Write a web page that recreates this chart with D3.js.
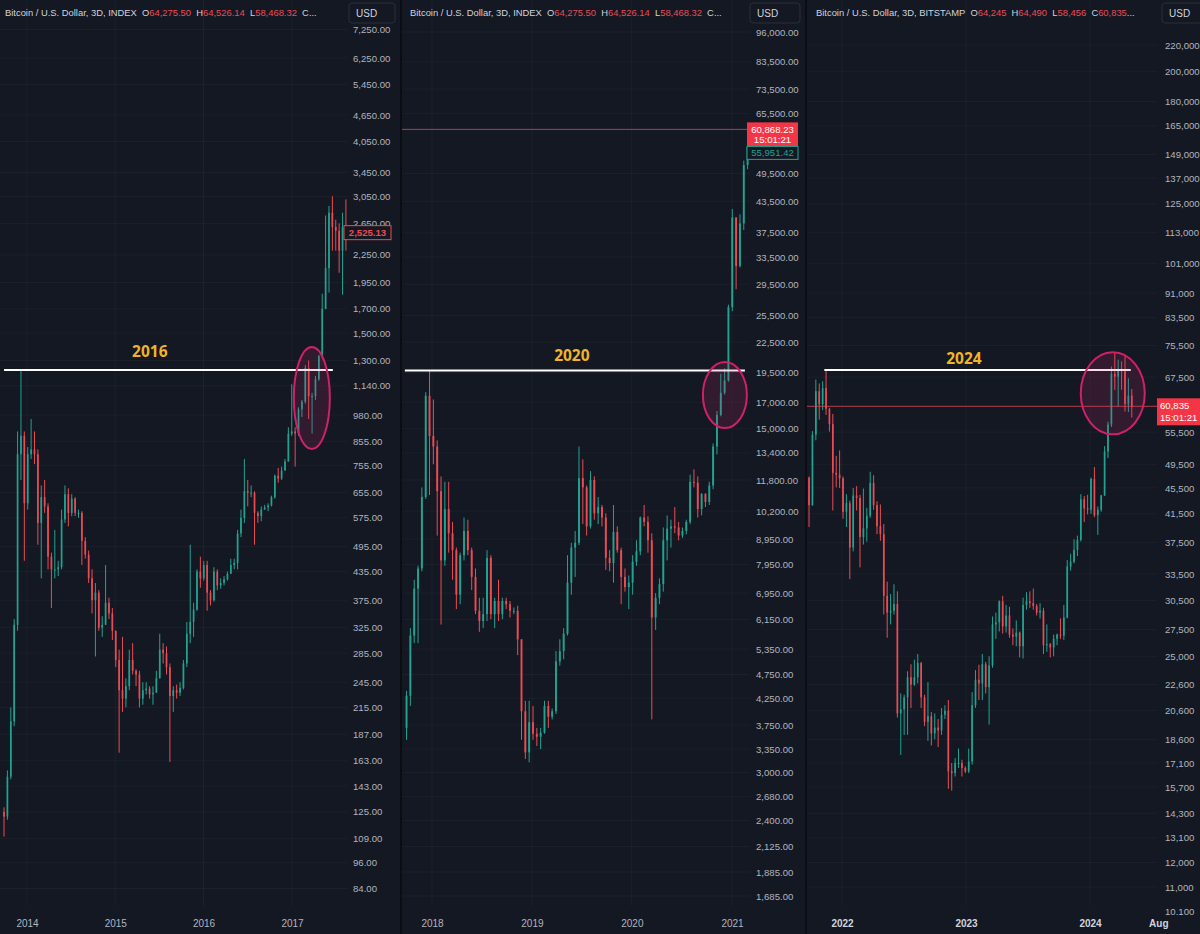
<!DOCTYPE html>
<html><head><meta charset="utf-8">
<script src="https://cdn.jsdelivr.net/npm/d3@7/dist/d3.min.js"></script>
<style>
html,body{margin:0;padding:0;background:#141823;}
svg{display:block;font-family:"Liberation Sans",Arial,sans-serif;}
</style></head><body>
<svg id="chart" width="1200" height="934"></svg>
<script>
// ================= DATA =================
// Panel 1 : BTC index, 14-day candles starting 2013-09-21
const p1Start = "2013-09-21", p1StepDays = 14, p1Open0 = 125;
const p1Close = [122,150,200,330,800,880,620,800,820,800,560,640,610,470,440,440,445,570,650,590,635,590,590,510,475,420,375,390,325,330,370,350,320,275,235,225,240,275,260,255,225,235,237,230,232,250,290,285,265,228,235,232,238,270,315,335,357,435,420,450,390,375,435,405,410,418,430,450,455,530,575,660,655,655,590,580,600,607,613,640,715,705,735,770,890,900,890,1010,1050,1250,1080,1080,1180,1330,1700,2100,2800,2600,2550,2300,2600,2525];
const p1High = [128,155,215,340,900,1238,900,830,960,900,820,680,700,620,480,540,460,600,680,670,650,640,600,595,520,485,440,410,395,345,450,380,360,320,290,310,250,290,300,262,260,245,245,240,240,260,315,300,295,270,240,242,245,275,335,500,370,440,470,460,460,395,445,440,420,425,435,465,465,540,600,780,700,680,660,595,610,615,620,645,720,745,750,780,920,1150,920,1020,1060,1270,1300,1100,1200,1340,1840,2760,2900,3050,2700,2650,2800,3000];
const p1Low = [110,120,148,195,320,700,460,600,780,760,500,420,590,440,360,420,425,440,560,550,580,580,575,450,465,410,350,280,320,310,330,340,305,265,170,210,215,235,255,240,215,218,230,225,218,232,250,270,255,162,210,225,228,236,265,300,310,355,400,415,355,365,372,395,398,405,415,430,440,440,520,560,610,640,500,560,565,600,595,610,635,690,700,735,770,880,750,880,970,1040,960,890,1060,1170,1320,1700,1850,2300,2300,2050,1830,2300];
const p1Ticks = [7250,6250,5450,4650,4050,3450,3050,2650,2250,1950,1700,1500,1300,1140,980,855,755,655,575,495,435,375,325,285,245,215,187,163,143,125,109,96,84];
const p1Years = ["2014-01-01","2015-01-01","2016-01-01","2017-01-01"];
const p1YearLabels = ["2014","2015","2016","2017"];
const p1Header = ["Bitcoin / U.S. Dollar, 3D, INDEX","64,275.50","64,526.14","58,468.32",""];
const p1Level = 1238, p1LevelFrom = "2013-09-28", p1LevelTo = "2017-06-19";
const p1Label = "2016", p1LabelDate = "2015-05-24";
const p1Circle = {date:"2017-03-24", value:1071};
const p1LastLabel = "2,525.13", p1LastValue = 2525.13;

// Panel 2 : BTC index, 14-day candles starting 2017-09-23
const p2Start = "2017-09-23", p2StepDays = 14, p2Open0 = 3700;
const p2Close = [4300,5700,7100,7800,10900,17500,14500,13800,11200,8100,10300,9200,8500,6900,8300,9300,8500,7500,6400,6100,6300,8200,6300,6700,6300,6700,6600,6400,6400,5600,4000,3300,3800,3600,3550,3620,4100,3900,4000,5050,5300,5750,7300,8600,8800,11900,11400,9500,11800,10100,10400,9900,8200,8000,9250,8500,7500,7150,7300,8050,8450,9900,9700,8900,6200,6800,7250,8900,9400,9500,9450,9100,9300,9700,11700,11650,10300,11050,10650,11500,13800,16000,17750,18800,26500,40300,32100,39200,51500,55951];
const p2High = [4400,5900,7400,7900,11400,17800,19700,17200,14200,12000,11700,11700,9700,8600,8400,9900,9800,8600,7800,6800,6800,8500,8300,6800,7400,6800,6800,6700,6500,6550,5600,4200,4200,4100,3700,3700,4200,4200,4050,5300,5600,5900,8300,8800,9300,13800,13000,11500,12300,12000,10900,10500,10100,8500,10500,9500,8600,7800,7550,8300,8900,9950,10500,9950,9200,6950,7450,9450,10000,9800,10400,9700,9450,9800,12100,12400,12000,11100,11100,11700,14000,16300,19400,19900,26800,41950,40400,40900,52600,57000];
const p2Low = [3500,4100,5500,5500,7700,10800,11000,12700,9100,6000,7900,8400,7400,6450,6600,8100,8300,7050,6300,5800,5900,6100,6150,5900,6100,6150,6450,6200,6300,5200,3500,3200,3150,3500,3400,3350,3600,3700,3850,3950,4950,5100,5700,6900,7500,8700,9600,9100,9400,9800,9600,9500,7750,7700,7300,8400,6600,7000,6450,6900,7900,8300,9500,8400,3850,5850,6600,7000,8100,8600,9200,8900,9000,9150,9600,11400,9900,10000,10400,10500,11300,13300,15900,17600,18700,26000,28800,31900,38000,50500];
const p2Ticks = [96000,83500,73500,65500,49500,43500,37500,33500,29500,25500,22500,19500,17000,15000,13400,11800,10200,8950,7950,6950,6150,5350,4750,4250,3750,3350,3000,2680,2400,2125,1885,1685];
const p2Years = ["2018-01-01","2019-01-01","2020-01-01","2021-01-01"];
const p2YearLabels = ["2018","2019","2020","2021"];
const p2Header = ["Bitcoin / U.S. Dollar, 3D, INDEX","64,275.50","64,526.14","58,468.32",""];
const p2Level = 19700, p2LevelFrom = "2017-09-24", p2LevelTo = "2021-02-17";
const p2Label = "2020", p2LabelDate = "2019-05-27";
const p2Circle = {date:"2020-12-06", value:17560};
const p2Price = 60868.23, p2PriceLabel = "60,868.23", p2Timer = "15:01:21";
const p2LastLabel = "55,951.42";

// Panel 3 : BTC Bitstamp, 10-day candles starting 2021-09-01
const p3Start = "2021-09-01", p3StepDays = 10, p3Open0 = 47100;
const p3Close = [46300,47200,42800,55000,64200,61300,64900,60300,57100,48000,
 47700,47100,41800,43100,36800,44300,43900,38200,39400,41200,
 46300,42800,39700,38600,31000,29200,29400,30100,20400,20700,
 21600,23200,22600,23200,24400,21600,19800,20200,19000,19400,
 19200,20300,20600,16600,16500,17100,17100,16800,16600,17200,
 21000,23000,22700,24300,22400,24200,28000,28200,30400,27800,
 28900,27000,26800,27200,25900,30000,30400,30200,29900,29200,
 29400,26000,26100,25800,26600,27000,26900,28700,34400,35000,
 36500,37800,43700,42300,42100,47000,41300,42100,44300,51800,
 57000,68300,67600,69500,69400,61300,63200,60835];
const p3High = [52900,48800,47400,55700,66900,66000,66500,69000,60500,59200,
 51000,52000,47400,44500,43500,45500,45800,44400,45400,42400,
 48200,47600,43400,42900,40000,32600,31200,32300,31500,21900,
 21800,23700,24300,24700,25200,24500,21800,22800,20500,20400,
 20000,20800,21000,21400,17100,17400,18000,17300,16900,18000,
 22000,23800,24250,25200,24500,25000,28800,29200,30500,31000,
 30000,29800,27600,28400,27300,30800,31400,31500,31800,30100,
 30200,29700,28000,26200,27000,27100,28600,30000,35200,36000,
 37900,38400,44500,44200,44400,47200,49000,42600,44400,52800,
 57600,70100,73800,71800,71400,72800,67200,64700];
const p3Low = [43000,44700,39600,42700,53900,58000,60000,59000,55600,42000,
 45600,45500,40800,39600,32900,36300,42000,34300,37200,37600,
 40900,42100,38600,37700,29000,26700,28000,29000,20100,17600,
 18900,18900,20800,22500,22700,20800,19500,18500,18200,18600,
 18100,18900,20000,15600,15500,16300,16800,16300,16500,16500,
 17000,20800,21400,21400,21900,19600,24000,26600,27300,27100,
 27200,26700,26000,25900,24900,24800,29500,29700,29500,28900,
 28600,25200,25400,24900,25000,26000,26600,26500,28600,33900,
 34800,35700,37600,40300,41400,41500,41000,38500,41800,44200,
 50600,56500,64500,60800,64500,59700,59600,58456];
const p3Ticks = [220000,200000,180000,165000,149000,137000,125000,113000,101000,91000,83500,75500,67500,55500,49500,45500,41500,37500,33500,30500,27500,25000,22600,20600,18600,17100,15700,14300,13100,12000,11000,10100];
const p3TickLabels = ["220,000","200,000","180,000","165,000","149,000","137,000","125,000","113,000","101,000","91,000","83,500","75,500","67,500","55,500","49,500","45,500","41,500","37,500","33,500","30,500","27,500","25,000","22,600","20,600","18,600","17,100","15,700","14,300","13,100","12,000","11,000","10.100"];
const p3Years = ["2022-01-01","2023-01-01","2024-01-01","2024-07-20"];
const p3YearLabels = ["2022","2023","2024","Aug"];
const p3Header = ["Bitcoin / U.S. Dollar, 3D, BITSTAMP","64,245","64,490","58,456","60,835"];
const p3Level = 69200, p3LevelFrom = "2021-11-10", p3LevelTo = "2024-04-30";
const p3Label = "2024", p3LabelDate = "2022-12-26";
const p3Circle = {date:"2024-03-08", value:63700};
const p3Price = 60835, p3PriceLabel = "60,835", p3Timer = "15:01:21";

// ================= STYLE =================
const BG = "#141823", UP = "#22a391", DOWN = "#ea4c55", TXT = "#b2b5be", HDR = "#d1d4dc";
const GRID = "rgba(255,255,255,0.035)", GOLD = "#f0b429", PINK = "#d0206a";
const parse = d3.timeParse("%Y-%m-%d");
const svg = d3.select("#chart");
svg.append("rect").attr("width",1200).attr("height",934).attr("fill",BG);

function buildCandles(start, step, open0, close, high, low) {
  const t0 = parse(start);
  return close.map((c,i) => ({
    date: d3.timeHour.offset(t0, (i*step + step/2)*24),
    open: i === 0 ? open0 : close[i-1], close: c, high: high[i], low: low[i]
  }));
}

const panels = [
  { id:1, left:0, right:400, plotRight:347, axisX:350, plotBottom:906,
    tDomain:["2014-01-01","2017-01-01"], tRange:[27,292],
    yDomain:[84,6250], yRange:[888.5,58],
    candles: buildCandles(p1Start,p1StepDays,p1Open0,p1Close,p1High,p1Low), step:p1StepDays,
    ticks:p1Ticks, fmt:d3.format(",.2f"), years:p1Years, yearLabels:p1YearLabels, header:p1Header,
    level:p1Level, levelFrom:p1LevelFrom, levelTo:p1LevelTo, label:p1Label, labelDate:p1LabelDate, labelDy:-13,
    circle:p1Circle, rx:18, ry:51, usd:[349,46], boldYears:false },
  { id:2, left:402, right:805, plotRight:750, axisX:753, plotBottom:906,
    tDomain:["2018-01-01","2021-01-01"], tRange:[432,732],
    yDomain:[1685,96000], yRange:[896,32],
    candles: buildCandles(p2Start,p2StepDays,p2Open0,p2Close,p2High,p2Low), step:p2StepDays,
    ticks:p2Ticks, fmt:d3.format(",.2f"), years:p2Years, yearLabels:p2YearLabels, header:p2Header,
    level:p2Level, levelFrom:p2LevelFrom, levelTo:p2LevelTo, label:p2Label, labelDate:p2LabelDate, labelDy:-9,
    circle:p2Circle, rx:22, ry:33, usd:[750,50], boldYears:false },
  { id:3, left:807, right:1200, plotRight:1157, axisX:1162, plotBottom:906,
    tDomain:["2022-01-01","2024-01-01"], tRange:[842,1090],
    yDomain:[10100,220000], yRange:[911,45],
    candles: buildCandles(p3Start,p3StepDays,p3Open0,p3Close,p3High,p3Low), step:p3StepDays,
    ticks:p3Ticks, fmt:(d,i)=>p3TickLabels[i], years:p3Years, yearLabels:p3YearLabels, header:p3Header,
    level:p3Level, levelFrom:p3LevelFrom, levelTo:p3LevelTo, label:p3Label, labelDate:p3LabelDate, labelDy:-6,
    circle:p3Circle, rx:32, ry:41, usd:[1162,42], boldYears:true }
];

panels.forEach(p => {
  const g = svg.append("g");
  const x = d3.scaleTime().domain(p.tDomain.map(parse)).range(p.tRange);
  const y = d3.scaleLog().domain(p.yDomain).range(p.yRange);
  p.x = x; p.y = y;
  const clipId = "clip" + p.id;
  svg.append("clipPath").attr("id", clipId).append("rect")
     .attr("x", p.left).attr("y", 0).attr("width", p.plotRight - p.left).attr("height", p.plotBottom);

  // grid
  const grid = g.append("g").attr("clip-path", `url(#${clipId})`);
  grid.selectAll("line.h").data(p.ticks).join("line")
    .attr("x1", p.left).attr("x2", p.plotRight).attr("y1", d => y(d)).attr("y2", d => y(d))
    .attr("stroke", GRID);
  grid.selectAll("line.v").data(p.years.map(parse)).join("line")
    .attr("x1", d => x(d)).attr("x2", d => x(d)).attr("y1", 0).attr("y2", p.plotBottom)
    .attr("stroke", GRID);

  // candles
  const cg = g.append("g").attr("clip-path", `url(#${clipId})`);
  const pxPerCandle = Math.abs(x(d3.timeDay.offset(parse(p.tDomain[0]), p.step)) - x(parse(p.tDomain[0])));
  const bw = Math.max(1.3, pxPerCandle * 0.5);
  cg.selectAll("line.wick").data(p.candles).join("line")
    .attr("x1", d => x(d.date)).attr("x2", d => x(d.date))
    .attr("y1", d => y(d.high)).attr("y2", d => y(d.low))
    .attr("stroke", d => d.close >= d.open ? UP : DOWN).attr("stroke-width", 1);
  cg.selectAll("rect.body").data(p.candles).join("rect")
    .attr("x", d => x(d.date) - bw/2).attr("width", bw)
    .attr("y", d => y(Math.max(d.open, d.close)))
    .attr("height", d => Math.max(1, Math.abs(y(d.open) - y(d.close))))
    .attr("fill", d => d.close >= d.open ? UP : DOWN);

  // y axis
  const ax = d3.axisRight(y).tickValues(p.ticks).tickFormat(p.fmt).tickSize(0).tickPadding(3);
  const ag = g.append("g").attr("transform", `translate(${p.axisX},0)`).call(ax);
  ag.select(".domain").remove();
  ag.selectAll("text").attr("fill", TXT).attr("font-size", 9.6).attr("font-family", '"Liberation Sans",Arial,sans-serif');

  // x axis
  const xa = d3.axisBottom(x).tickValues(p.years.map(parse)).tickFormat((d,i) => p.yearLabels[i]).tickSize(0).tickPadding(0);
  const xg = g.append("g").attr("transform", `translate(0,920)`).call(xa);
  xg.select(".domain").remove();
  xg.selectAll("text").attr("fill", p.boldYears ? "#d1d4dc" : TXT).attr("font-size", 10)
    .attr("font-weight", p.boldYears ? "bold" : "normal")
    .attr("font-family", '"Liberation Sans",Arial,sans-serif');

  // price line
  if (p.id === 2 || p.id === 3) {
    const pv = p.id === 2 ? p2Price : p3Price;
    g.append("line").attr("x1", p.left).attr("x2", p.plotRight).attr("y1", y(pv)).attr("y2", y(pv))
      .attr("stroke", DOWN).attr("stroke-opacity", 0.75).attr("stroke-width", 1);
  }

  // level line
  g.append("line").attr("x1", x(parse(p.levelFrom))).attr("x2", x(parse(p.levelTo)))
    .attr("y1", y(p.level)).attr("y2", y(p.level)).attr("stroke", "#ffffff").attr("stroke-width", 2);
  g.append("text").attr("x", x(parse(p.labelDate))).attr("y", y(p.level) + p.labelDy)
    .attr("text-anchor", "middle").attr("fill", GOLD).attr("font-size", 15.5).attr("font-weight", "bold")
    .attr("font-family", '"Open Sans","DejaVu Sans",sans-serif').text(p.label);

  // ellipse
  g.append("ellipse").attr("cx", x(parse(p.circle.date))).attr("cy", y(p.circle.value))
    .attr("rx", p.rx).attr("ry", p.ry).attr("fill", "rgba(214,40,110,0.16)")
    .attr("stroke", PINK).attr("stroke-width", 2);

  // header
  const h = g.append("text").attr("x", p.left + (p.id === 3 ? 9 : (p.id === 2 ? 8 : 5))).attr("y", 16)
    .attr("font-size", 9.4).attr("fill", HDR).style("white-space", "pre");
  h.append("tspan").text(p.header[0] + "  O");
  h.append("tspan").attr("fill", DOWN).text(p.header[1]);
  h.append("tspan").text("  H");
  h.append("tspan").attr("fill", DOWN).text(p.header[2]);
  h.append("tspan").text("  L");
  h.append("tspan").attr("fill", DOWN).text(p.header[3]);
  h.append("tspan").text("  C");
  if (p.header[4]) h.append("tspan").attr("fill", DOWN).text(p.header[4]);
  h.append("tspan").text("...");

  // USD box
  g.append("rect").attr("x", p.usd[0]).attr("y", 3).attr("width", p.usd[1]).attr("height", 20)
    .attr("rx", 3).attr("fill", BG).attr("stroke", "#2a2e39");
  g.append("text").attr("x", p.usd[0] + 7).attr("y", 17).attr("fill", HDR).attr("font-size", 10).text("USD");
});

// price labels
(function(){
  const p1 = panels[0], p2 = panels[1], p3 = panels[2];
  const y1 = p1.y(p1LastValue);
  svg.append("rect").attr("x", 344).attr("y", y1 - 7).attr("width", 47).attr("height", 14)
    .attr("fill", BG).attr("stroke", DOWN).attr("stroke-width", 1);
  svg.append("text").attr("x", 367.5).attr("y", y1 + 3.5).attr("text-anchor", "middle")
    .attr("fill", DOWN).attr("font-size", 9.6).attr("font-weight", "bold").text(p1LastLabel);
  const y2 = p2.y(p2Price);
  svg.append("rect").attr("x", 747).attr("y", y2 - 7).attr("width", 51).attr("height", 24).attr("fill", "#f23645");
  svg.append("text").attr("x", 772.5).attr("y", y2 + 3.5).attr("text-anchor", "middle").attr("fill", "#fff").attr("font-size", 9.6).text(p2PriceLabel);
  svg.append("text").attr("x", 772.5).attr("y", y2 + 14).attr("text-anchor", "middle").attr("fill", "#fff").attr("font-size", 9.6).text(p2Timer);
  svg.append("rect").attr("x", 747).attr("y", y2 + 17).attr("width", 51).attr("height", 13)
    .attr("fill", BG).attr("stroke", UP);
  svg.append("text").attr("x", 772.5).attr("y", y2 + 27).attr("text-anchor", "middle").attr("fill", UP).attr("font-size", 9.6).text(p2LastLabel);
  const y3 = p3.y(p3Price);
  svg.append("rect").attr("x", 1157).attr("y", y3 - 8).attr("width", 43).attr("height", 27).attr("fill", "#f23645");
  svg.append("text").attr("x", 1160).attr("y", y3 + 3).attr("fill", "#fff").attr("font-size", 9.6).text(p3PriceLabel);
  svg.append("text").attr("x", 1160).attr("y", y3 + 15).attr("fill", "#fff").attr("font-size", 9.6).text(p3Timer);
})();

// panel separators
[400, 805].forEach(sx => svg.append("rect").attr("x", sx).attr("y", 0).attr("width", 2).attr("height", 934).attr("fill", "#0b0d12"));
</script>
</body></html>
